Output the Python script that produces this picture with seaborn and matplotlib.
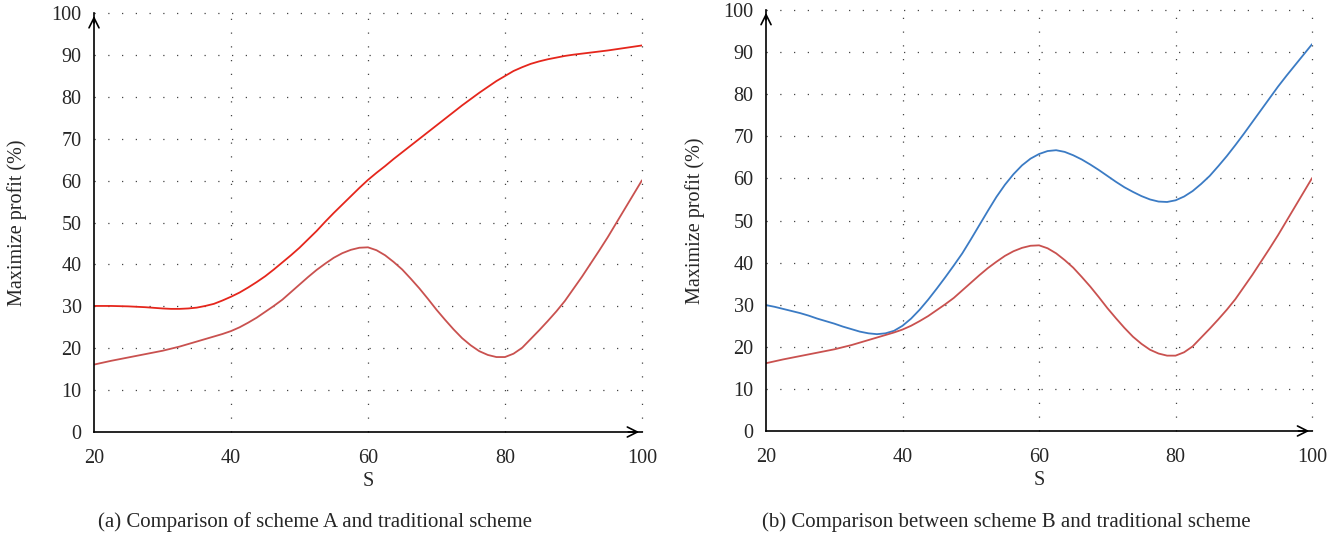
import numpy as np
import pandas as pd
import matplotlib
matplotlib.use("Agg")
import matplotlib.pyplot as plt
import seaborn as sns

# values (S from 20 to 100 in steps of 1.25)
s_vals = [20 + 1.25 * i for i in range(65)]

scheme_a = [30.1, 30.1, 30.1, 30.05, 30.0, 29.9, 29.8, 29.65, 29.5, 29.4, 29.4,
            29.5, 29.7, 30.1, 30.6, 31.4, 32.3, 33.3, 34.5, 35.8, 37.2, 38.8,
            40.5, 42.2, 44.0, 46.0, 48.0, 50.2, 52.3, 54.3, 56.3, 58.3, 60.2,
            61.9, 63.5, 65.2, 66.8, 68.4, 70.0, 71.6, 73.2, 74.8, 76.4, 78.0,
            79.5, 81.0, 82.4, 83.8, 85.0, 86.2, 87.1, 87.9, 88.5, 89.0, 89.4,
            89.8, 90.1, 90.35, 90.6, 90.85, 91.1, 91.4, 91.7, 92.0, 92.3]

scheme_b = [29.9, 29.5, 29.0, 28.5, 28.0, 27.4, 26.7, 26.1, 25.5, 24.8, 24.2,
            23.6, 23.2, 23.0, 23.2, 23.8, 25.0, 26.7, 28.8, 31.2, 33.8, 36.5,
            39.3, 42.2, 45.5, 48.9, 52.3, 55.6, 58.5, 61.0, 63.1, 64.7, 65.8,
            66.5, 66.7, 66.3, 65.5, 64.5, 63.3, 62.0, 60.6, 59.2, 57.9, 56.8,
            55.8, 55.0, 54.5, 54.4, 54.8, 55.7, 57.0, 58.7, 60.6, 62.9, 65.3,
            67.9, 70.6, 73.4, 76.2, 79.0, 81.8, 84.4, 86.9, 89.4, 91.9]

traditional = [16.1, 16.55, 17.0, 17.4, 17.8, 18.2, 18.6, 19.0, 19.4, 19.9, 20.4,
               21.0, 21.6, 22.2, 22.8, 23.4, 24.1, 25.0, 26.1, 27.3, 28.7, 30.1,
               31.6, 33.4, 35.2, 37.0, 38.7, 40.2, 41.6, 42.7, 43.5, 44.0, 44.1,
               43.4, 42.2, 40.6, 38.8, 36.6, 34.3, 31.8, 29.2, 26.8, 24.5, 22.4,
               20.7, 19.3, 18.4, 17.9, 17.9, 18.7, 20.1, 22.2, 24.3, 26.5, 28.8,
               31.3, 34.2, 37.1, 40.2, 43.3, 46.5, 49.9, 53.3, 56.7, 60.1]

x_ticks = [20, 40, 60, 80, 100]
y_ticks = [0, 10, 20, 30, 40, 50, 60, 70, 80, 90, 100]

captions = ["(a) Comparison of scheme A and traditional scheme",
            "(b) Comparison between scheme B and traditional scheme"]

df = pd.DataFrame({"S": s_vals, "A": scheme_a, "B": scheme_b, "T": traditional})

sns.set_style("white")
plt.rcParams["font.family"] = ["Liberation Serif", "DejaVu Serif"]

fig = plt.figure(figsize=(13.43, 5.39), dpi=100)
ax1 = fig.add_axes([0.070, 0.1985, 0.408, 0.777])
ax2 = fig.add_axes([0.5704, 0.2004, 0.4066, 0.781])

sns.lineplot(data=df, x="S", y="A", ax=ax1, color="#e5261c", lw=1.3)
sns.lineplot(data=df, x="S", y="T", ax=ax1, color="#c9514f", lw=1.3)
sns.lineplot(data=df, x="S", y="B", ax=ax2, color="#3b7bc4", lw=1.3)
sns.lineplot(data=df, x="S", y="T", ax=ax2, color="#c9514f", lw=1.3)

label_x = [-0.122, -0.112]
caption_x = [0.2345, 0.749]

for ax, cap, lx, cx in zip([ax1, ax2], captions, label_x, caption_x):
    ax.set_xlim(20, 100)
    ax.set_ylim(0, 100)
    ax.set_xticks(x_ticks)
    ax.set_yticks(y_ticks)
    ax.tick_params(length=0, labelsize=14.5, pad=9)
    ax.tick_params(axis="x", pad=12)
    # dotted grid
    for xv in x_ticks[1:]:
        ax.axvline(xv, color="#444444", lw=0.9, ls=(0, (1, 10)), zorder=0, clip_on=False)
    for yv in y_ticks[1:]:
        ax.axhline(yv, color="#444444", lw=0.9, ls=(0, (1, 10)), zorder=0, clip_on=False)
    for sp in ["top", "right"]:
        ax.spines[sp].set_visible(False)
    for sp in ["left", "bottom"]:
        ax.spines[sp].set_color("black")
        ax.spines[sp].set_linewidth(1.2)
    # arrow heads on the axes
    ax.annotate("", xy=(0, 1.0), xycoords="axes fraction", xytext=(0, 0.97),
                arrowprops=dict(arrowstyle="->", lw=1.2, color="black",
                                mutation_scale=18))
    ax.annotate("", xy=(1.0, 0), xycoords="axes fraction", xytext=(0.97, 0),
                arrowprops=dict(arrowstyle="->", lw=1.2, color="black",
                                mutation_scale=18))
    ax.set_xlabel("S", fontsize=14.5, labelpad=3)
    ax.set_ylabel("Maximize profit (%)", fontsize=14.5)
    ax.yaxis.set_label_coords(lx, 0.5)
    fig.text(cx, 0.0315, cap, ha="center", va="center", fontsize=15)

fig.savefig("out.png", dpi=100)
